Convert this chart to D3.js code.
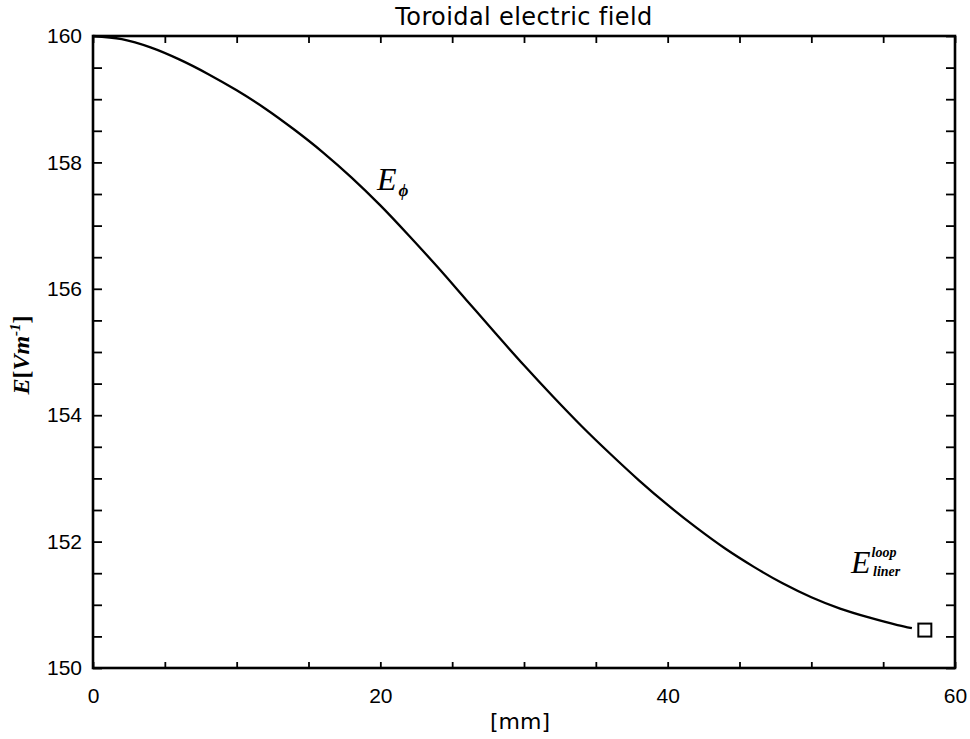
<!DOCTYPE html>
<html>
<head>
<meta charset="utf-8">
<script src="https://cdn.jsdelivr.net/npm/d3@7"></script>
<style>
  body { margin: 0; background: #fff; }
  svg text { fill: #000; }
</style>
</head>
<body>
<div id="chart"></div>
<script>
// curve: radius [mm] and toroidal field [V/m]
const radius = [0, 2, 4, 6, 8, 10, 12, 14, 16, 18, 20, 22, 24, 26, 28, 30, 32, 34, 36, 38, 40, 42, 44, 46, 48, 50, 52, 54, 56, 57];
const efield = [160.0, 159.95, 159.82, 159.63, 159.40, 159.14, 158.85, 158.52, 158.16, 157.76,
                157.32, 156.84, 156.34, 155.82, 155.30, 154.79, 154.30, 153.83, 153.39, 152.97,
                152.58, 152.22, 151.89, 151.60, 151.34, 151.12, 150.94, 150.80, 150.68, 150.63];
// the single liner loop value (square marker)
const linerX = [57.9];
const linerY = [150.6];

const xTicks = [0, 20, 40, 60];
const yTicks = [150, 152, 154, 156, 158, 160];

const width = 970, height = 739;
const margin = { top: 36, right: 15, bottom: 71, left: 93 };
const mwidth = width - margin.left - margin.right;
const mheight = height - margin.top - margin.bottom;

const svg = d3.select("#chart").append("svg")
    .attr("width", width)
    .attr("height", height);

const xScale = d3.scaleLinear().domain([0, 60]).range([0, mwidth]);
const yScale = d3.scaleLinear().domain([150, 160]).range([mheight, 0]);

const g = svg.append("g")
    .attr("transform", "translate(" + margin.left + "," + margin.top + ")");

const xMinor = d3.range(0, 60.001, 5);
const yMinor = d3.range(150, 160.001, 0.5);

function styleAxis(a) {
    a.select(".domain").remove();
    a.selectAll(".tick line").attr("stroke", "#000").attr("stroke-width", 1.8);
    a.selectAll(".tick text")
        .attr("font-family", "'Liberation Sans', Arial, sans-serif")
        .attr("font-size", "21px")
        .attr("fill", "#000");
}

// bottom axis, ticks pointing inward
g.append("g")
    .attr("transform", "translate(0," + mheight + ")")
    .call(d3.axisBottom(xScale).tickValues(xMinor).tickSizeInner(-6).tickSizeOuter(0)
        .tickPadding(20)
        .tickFormat(d => xTicks.includes(d) ? d : ""))
    .call(styleAxis);

// top axis, no labels
g.append("g")
    .call(d3.axisTop(xScale).tickValues(xMinor).tickSizeInner(-7).tickSizeOuter(0).tickFormat(""))
    .call(styleAxis);

// left axis
g.append("g")
    .call(d3.axisLeft(yScale).tickValues(yMinor).tickSizeInner(-9).tickSizeOuter(0)
        .tickPadding(11)
        .tickFormat(d => yTicks.includes(d) ? d : ""))
    .call(styleAxis);

// right axis
g.append("g")
    .attr("transform", "translate(" + mwidth + ",0)")
    .call(d3.axisRight(yScale).tickValues(yMinor).tickSizeInner(-9).tickSizeOuter(0).tickFormat(""))
    .call(styleAxis);

// frame
g.append("rect")
    .attr("width", mwidth)
    .attr("height", mheight)
    .attr("fill", "none")
    .attr("stroke", "#000")
    .attr("stroke-width", 2.6);

// field curve
const data = radius.map((r, i) => ({ x: r, y: efield[i] }));
const line = d3.line()
    .x(d => xScale(d.x))
    .y(d => yScale(d.y))
    .curve(d3.curveMonotoneX);

g.append("path")
    .datum(data)
    .attr("fill", "none")
    .attr("stroke", "#000")
    .attr("stroke-width", 2.3)
    .attr("d", line);

// liner loop marker
g.selectAll(".marker")
    .data(linerX.map((v, i) => ({ x: v, y: linerY[i] })))
    .enter().append("rect")
    .attr("class", "marker")
    .attr("x", d => xScale(d.x) - 6.5)
    .attr("y", d => yScale(d.y) - 6.5)
    .attr("width", 13)
    .attr("height", 13)
    .attr("fill", "none")
    .attr("stroke", "#000")
    .attr("stroke-width", 2);

// title
svg.append("text")
    .attr("x", margin.left + mwidth / 2)
    .attr("y", 25)
    .attr("text-anchor", "middle")
    .attr("font-family", "'DejaVu Sans', sans-serif")
    .attr("font-size", "24px")
    .attr("letter-spacing", "0.4px")
    .text("Toroidal electric field");

// x axis label
svg.append("text")
    .attr("x", margin.left + mwidth / 2 - 4)
    .attr("y", 729)
    .attr("text-anchor", "middle")
    .attr("font-family", "'DejaVu Sans', sans-serif")
    .attr("font-size", "22px")
    .text("[mm]");

// y axis label
const yl = svg.append("text")
    .attr("transform", "translate(29," + (margin.top + mheight / 2 + 3) + ") rotate(-90)")
    .attr("text-anchor", "middle")
    .attr("font-family", "'Liberation Serif', serif")
    .attr("font-style", "italic")
    .attr("font-weight", "bold")
    .attr("font-size", "24px");
yl.append("tspan").text("E");
yl.append("tspan").attr("font-style", "normal").text("[");
yl.append("tspan").text("Vm");
yl.append("tspan").attr("font-size", "15px").attr("dy", -9).text("-1");
yl.append("tspan").attr("font-style", "normal").attr("dy", 9).text("]");

// E_phi annotation
const ep = svg.append("text")
    .attr("x", 377)
    .attr("y", 190)
    .attr("font-family", "'Liberation Serif', serif")
    .attr("font-style", "italic")
    .attr("font-size", "32px");
ep.append("tspan").text("E");
ep.append("tspan").attr("font-size", "17px").attr("font-weight", "bold")
    .attr("dy", 6).attr("dx", 2).text("\u03d5");

// E loop liner annotation
const el = svg.append("text")
    .attr("x", 851)
    .attr("y", 573)
    .attr("font-family", "'Liberation Serif', serif")
    .attr("font-style", "italic")
    .attr("font-size", "32px");
el.append("tspan").text("E");
el.append("tspan").attr("font-size", "14px").attr("font-weight", "bold").attr("dy", -16).attr("dx", 1).text("loop");
el.append("tspan").attr("font-size", "14px").attr("font-weight", "bold").attr("x", 873).attr("dy", 19).text("liner");
</script>
</body>
</html>
